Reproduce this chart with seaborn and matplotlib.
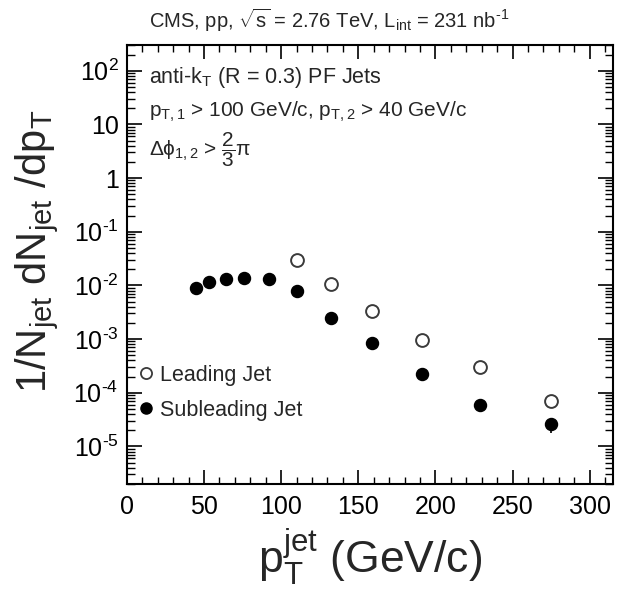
import numpy as np
import pandas as pd
import matplotlib
matplotlib.use("Agg")
import matplotlib.pyplot as plt
from matplotlib.lines import Line2D
from matplotlib.ticker import FixedLocator, FixedFormatter, LogLocator, MultipleLocator, NullFormatter
import seaborn as sns

# Jet pT spectra (bin centres in GeV/c, normalised yields per GeV/c)
lead_pt = [110, 132, 159, 191, 229, 275]
lead_yield = [3.0e-2, 1.08e-2, 3.4e-3, 9.8e-4, 3.0e-4, 7.0e-5]
lead_err = [0.0, 0.0, 0.0, 0.0, 0.2e-4, 0.5e-5]

sub_pt = [45, 53, 64, 76, 92, 110, 132, 159, 191, 229, 275]
sub_yield = [9.0e-3, 1.14e-2, 1.34e-2, 1.38e-2, 1.34e-2, 7.8e-3, 2.5e-3, 8.4e-4,
             2.25e-4, 6.0e-5, 2.6e-5]
sub_err = [0, 0, 0, 0, 0, 0, 0, 0, 0, 1.0e-5, 0.8e-5]

ytick_vals = [1e-5, 1e-4, 1e-3, 1e-2, 1e-1, 1, 10, 100]
ytick_text = [r"$10^{\text{-}5}$", r"$10^{\text{-}4}$", r"$10^{\text{-}3}$",
              r"$10^{\text{-}2}$", r"$10^{\text{-}1}$", "1", "10", r"$10^{2}$"]

sns.set_style("ticks")
plt.rcParams["font.family"] = ["Liberation Sans", "DejaVu Sans"]
plt.rcParams["mathtext.fontset"] = "custom"
plt.rcParams["mathtext.rm"] = "Liberation Sans"
plt.rcParams["mathtext.it"] = "Liberation Sans"
plt.rcParams["mathtext.bf"] = "Liberation Sans:bold"
plt.rcParams["mathtext.sf"] = "Liberation Sans"

lead = pd.DataFrame({"pt": lead_pt, "y": lead_yield, "err": lead_err})
sub = pd.DataFrame({"pt": sub_pt, "y": sub_yield, "err": sub_err})

fig = plt.figure(figsize=(6.19, 5.93), dpi=100)
ax = fig.add_axes([0.205, 0.184, 0.785, 0.740])

ax.errorbar(sub["pt"], sub["y"], yerr=sub["err"], fmt="none", ecolor="black",
            elinewidth=1.2, zorder=2)
ax.errorbar(lead["pt"], lead["y"], yerr=lead["err"], fmt="none", ecolor="#444444",
            elinewidth=1.2, zorder=2)
sns.scatterplot(data=sub, x="pt", y="y", ax=ax, marker="o", s=75,
                color="black", edgecolor="black", linewidth=1.0, zorder=3)
sns.scatterplot(data=lead, x="pt", y="y", ax=ax, marker="o", s=85,
                facecolor="white", edgecolor="#3a3a3a", linewidth=1.4, zorder=3)

ax.set_yscale("log")
ax.set_xlim(0, 315)
ax.set_ylim(2.0e-6, 3.0e2)

ax.xaxis.set_major_locator(MultipleLocator(50))
ax.xaxis.set_minor_locator(MultipleLocator(10))
ax.yaxis.set_major_locator(FixedLocator(ytick_vals))
ax.yaxis.set_major_formatter(FixedFormatter(ytick_text))
ax.yaxis.set_minor_locator(LogLocator(base=10, subs=np.arange(2, 10), numticks=20))
ax.yaxis.set_minor_formatter(NullFormatter())

ax.tick_params(axis="both", which="both", direction="in", top=True, right=True,
               colors="black", labelsize=18)
ax.tick_params(axis="x", which="major", length=10, width=1.2, pad=8)
ax.tick_params(axis="x", which="minor", length=5, width=1.0)
ax.tick_params(axis="y", which="major", length=11, width=1.2, pad=6)
ax.tick_params(axis="y", which="minor", length=6, width=1.0)
for sp in ax.spines.values():
    sp.set_linewidth(1.5)
    sp.set_color("black")

ax.set_xlabel(r"p$_{\rm T}^{\rm jet}$ (GeV/c)", fontsize=32, labelpad=6)
ax.set_ylabel(r"1/N$_{\rm jet}$ dN$_{\rm jet}$ /dp$_{\rm T}$", fontsize=30)
ax.yaxis.set_label_coords(-0.135, 0.53)

fig.text(0.24, 0.966,
         r"CMS, pp, $\sqrt{\rm s}$ = 2.76 TeV, L$_{\rm int}$ = 231 nb$^{\text{-}1}$",
         fontsize=14.5, ha="left", va="center")

ax.text(0.045, 0.925, r"anti-k$_{\rm T}$ (R = 0.3) PF Jets", transform=ax.transAxes,
        fontsize=15.5, ha="left", va="center")
ax.text(0.045, 0.847, r"p$_{\rm T,1}$ > 100 GeV/c, p$_{\rm T,2}$ > 40 GeV/c",
        transform=ax.transAxes, fontsize=15, ha="left", va="center")
ax.text(0.045, 0.761, r"$\Delta\phi_{1,2}$ > $\dfrac{2}{3}\pi$", transform=ax.transAxes,
        fontsize=15, ha="left", va="center")

handles = [
    Line2D([], [], marker="o", linestyle="none", markersize=8,
           markerfacecolor="white", markeredgecolor="#3a3a3a", markeredgewidth=1.3),
    Line2D([], [], marker="o", linestyle="none", markersize=8,
           markerfacecolor="black", markeredgecolor="black"),
]
ax.legend(handles, ["Leading Jet", "Subleading Jet"], loc="lower left",
          bbox_to_anchor=(-0.01, 0.11), frameon=False, fontsize=15.5,
          handlelength=0.8, handletextpad=0.25, labelspacing=0.65, borderaxespad=0.3)

fig.savefig("out.png", dpi=100)
